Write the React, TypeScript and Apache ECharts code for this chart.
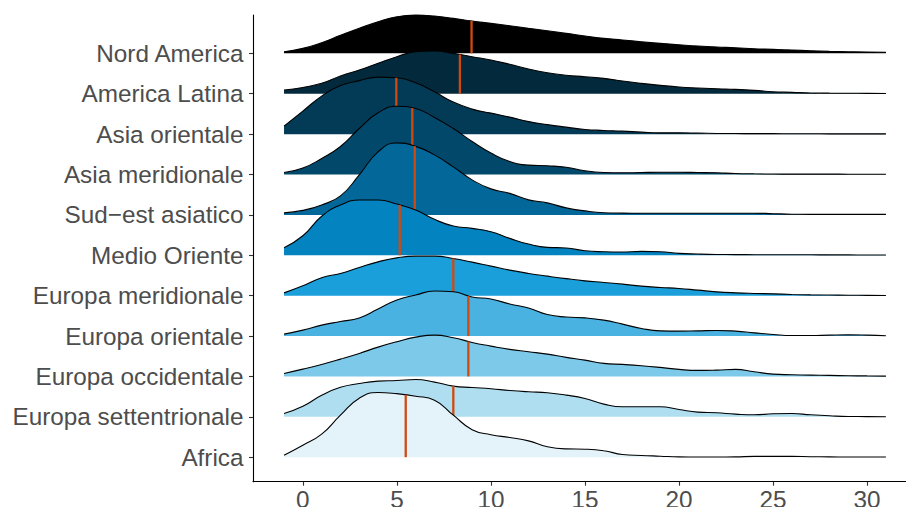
import React, { useEffect, useRef } from "react";
import * as echarts from "echarts";

// Regions, top (back) to bottom (front)
const categories = [
  "Nord America",
  "America Latina",
  "Asia orientale",
  "Asia meridionale",
  "Sud\u2212est asiatico",
  "Medio Oriente",
  "Europa meridionale",
  "Europa orientale",
  "Europa occidentale",
  "Europa settentrionale",
  "Africa",
];

// x grid of the density estimates
const xValues = [-1, 0, 1, 2, 3, 4, 5, 6, 7, 8, 9, 10, 11, 12, 13, 14, 15, 16, 17, 18, 19, 20, 21, 22, 23, 24, 25, 26, 27, 28, 29, 30, 31];

// density heights (relative), one array per region
const densNordAmerica = [1.5, 5, 10.6, 18, 25, 31.6, 36.6, 38.3, 37.3, 35, 32.3, 30, 27.6, 25, 22.6, 20, 17.3, 15, 13.3, 11.6, 10, 8.6, 7.3, 6.3, 5.6, 4.6, 4, 3.3, 2.6, 2, 1.6, 1.3, 1];
const densAmericaLatina = [3.7, 6.3, 10.4, 17.7, 23.7, 30.4, 37, 42, 42.7, 40.4, 37, 33.7, 29.4, 24.7, 21, 18.5, 17, 15.4, 12.7, 10.4, 8.4, 6.7, 5.7, 5, 4.4, 3.4, 2, 1.4, 0.8, 0.6, 0.5, 0.4, 0.3];
const densAsiaOrientale = [8, 23, 38, 48.5, 53.5, 57, 56.3, 51.3, 42.3, 32, 25, 21, 17, 12.5, 9.5, 7, 4.7, 3.7, 3, 2, 1.3, 1.3, 1, 0.7, 0.6, 0.5, 0.5, 0.4, 0.4, 0.3, 0.3, 0.3, 0.3];
const densAsiaMeridionale = [2, 6.5, 16, 28, 46, 61.7, 68.3, 66, 57, 46, 33, 21.5, 13, 9.4, 8.7, 7.3, 3.7, 2, 1.7, 2, 2.2, 2.2, 2, 1.7, 1, 0.7, 0.5, 0.4, 0.4, 0.4, 0.3, 0.3, 0.3];
const densSudEst = [2, 4.5, 10, 19, 40, 63, 72, 68.5, 60, 48, 35, 26, 21.5, 15, 12, 7, 4, 2.2, 1.8, 1.7, 1.7, 1.7, 1.7, 1.7, 1.7, 1.7, 1.2, 0.7, 0.5, 0.5, 0.5, 0.5, 0.5];
const densMedioOriente = [7.5, 19.5, 39, 50.2, 55.2, 55.2, 51.2, 45.2, 35.9, 29.2, 26.9, 23.5, 16.9, 11.2, 7.9, 7.3, 4.5, 3.5, 3.2, 3.9, 3.5, 1.9, 1.2, 0.8, 0.7, 0.6, 0.5, 0.5, 0.5, 0.4, 0.4, 0.3, 0.3];
const densEuropaMeridionale = [2.8, 9.8, 18, 22.2, 28.2, 33.8, 37.8, 39.5, 39.5, 37.2, 33.5, 29.5, 25.5, 22.2, 19.5, 17, 14.8, 13.2, 11.5, 9.5, 8.2, 7.2, 5.5, 3.8, 2.8, 2.2, 1.8, 1.2, 0.8, 0.6, 0.4, 0.3, 0.2];
const densEuropaOrientale = [1.9, 5.9, 10.9, 14.5, 18, 27, 36, 41, 45, 44.2, 39, 37, 32, 28, 21.5, 19, 18.2, 15.9, 11.9, 7.6, 5.2, 4.9, 5.2, 5.6, 4.9, 3.2, 1.6, 0.5, 0.5, 0.9, 1.2, 0.9, 0.3];
const densEuropaOccidentale = [3, 7.3, 12, 17.3, 23, 29.3, 34.7, 39.3, 41.3, 38.7, 34, 30.3, 27, 24.7, 22.3, 19, 16.3, 13, 12, 10.7, 9, 7, 6, 6.3, 7, 4.7, 2.3, 1.7, 1.3, 1, 0.7, 0.5, 0.3];
const densEuropaSettentrionale = [3.3, 10.5, 21.5, 29.5, 33.3, 35.7, 36.3, 37.3, 34.7, 30.7, 29.3, 28, 26.3, 25, 24, 21.7, 18.3, 12.7, 10, 10, 10, 7.3, 4.7, 4, 2.7, 2, 3, 3.3, 2, 1, 0.3, 0.2, 0.1];
const densAfrica = [2, 12, 23, 42, 59, 64.7, 63.5, 61, 57, 42, 27.5, 22.5, 19.7, 16.3, 10.5, 8.3, 8, 6.5, 2.7, 1.7, 1, 0.3, 0.2, 0.2, 0.3, 0.8, 0.8, 0.8, 0.5, 0.3, 0.2, 0.2, 0.2];

const densities = [
  densNordAmerica,
  densAmericaLatina,
  densAsiaOrientale,
  densAsiaMeridionale,
  densSudEst,
  densMedioOriente,
  densEuropaMeridionale,
  densEuropaOrientale,
  densEuropaOccidentale,
  densEuropaSettentrionale,
  densAfrica,
];

// medians per region
const medians = [8.97, 8.35, 4.97, 5.82, 5.95, 5.15, 8.0, 8.8, 8.8, 8.0, 5.47];

const xTicks = [0, 5, 10, 15, 20, 25, 30];

// styles
const fillColors = [
  "#000000",
  "#032a3c",
  "#033a55",
  "#02486b",
  "#03679a",
  "#0483c1",
  "#1a9fdb",
  "#4ab2e0",
  "#7dc9e9",
  "#b0def1",
  "#e4f3fa",
];
const medianColor = "#d2490f";
const heightScale = 1 / 40.37;
const FONT = "'Liberation Sans', Arial, sans-serif";

function interpAt(xs: number[], ys: number[], x: number): number {
  for (let i = 0; i < xs.length - 1; i++) {
    if (x >= xs[i] && x <= xs[i + 1]) {
      const t = (x - xs[i]) / (xs[i + 1] - xs[i]);
      return ys[i] + t * (ys[i + 1] - ys[i]);
    }
  }
  return 0;
}

export default function App() {
  const ref = useRef<HTMLDivElement>(null);
  useEffect(() => {
    if (!ref.current) return;
    const chart = echarts.init(ref.current, null, { renderer: "svg" });
    const n = categories.length;
    const series: any[] = [];
    categories.forEach((name, i) => {
      const base = n - i;
      const dens = densities[i];
      series.push({
        type: "line",
        name,
        data: xValues.map((x, j) => [x, base + dens[j] * heightScale]),
        smooth: 0.5,
        symbol: "none",
        clip: false,
        silent: true,
        z: 10 + i * 2,
        lineStyle: { color: "#000000", width: 1.1 },
        areaStyle: { color: fillColors[i], opacity: 1, origin: base },
      });
      const top = base + interpAt(xValues, dens, medians[i]) * heightScale;
      series.push({
        type: "line",
        data: [
          [medians[i], base],
          [medians[i], top],
        ],
        symbol: "none",
        clip: false,
        silent: true,
        z: 11 + i * 2,
        lineStyle: { color: medianColor, width: 2.3 },
      });
    });

    chart.setOption({
      animation: false,
      backgroundColor: "#ffffff",
      grid: {
        left: 253,
        right: -10,
        top: 15,
        bottom: 25.3,
        containLabel: false,
        outerBoundsMode: "none",
      },
      xAxis: {
        type: "value",
        min: -2.65,
        max: 32.6,
        axisLine: { show: true, onZero: false, lineStyle: { color: "#000000", width: 1.1 } },
        axisTick: { show: true, length: 4, customValues: xTicks, lineStyle: { color: "#333333", width: 1.1 } },
        axisLabel: {
          customValues: xTicks,
          color: "#4d4d4d",
          fontSize: 24.3,
          fontFamily: FONT,
          margin: 6,
        },
        splitLine: { show: false },
      },
      yAxis: {
        type: "value",
        min: 0.393,
        max: 11.95,
        axisLine: { show: true, onZero: false, lineStyle: { color: "#000000", width: 1.1 } },
        axisTick: {
          show: true,
          length: 4,
          customValues: categories.map((_, i) => n - i),
          lineStyle: { color: "#333333", width: 1.1 },
        },
        axisLabel: {
          customValues: categories.map((_, i) => n - i),
          formatter: (v: number) => categories[n - Math.round(v)] ?? "",
          color: "#4d4d4d",
          fontSize: 24.3,
          fontFamily: FONT,
          margin: 9.5,
        },
        splitLine: { show: false },
      },
      series,
    });
    return () => chart.dispose();
  }, []);
  return (
    <div
      ref={ref}
      style={{ position: "absolute", left: 0, top: 0, width: 906, height: 507 }}
    />
  );
}
